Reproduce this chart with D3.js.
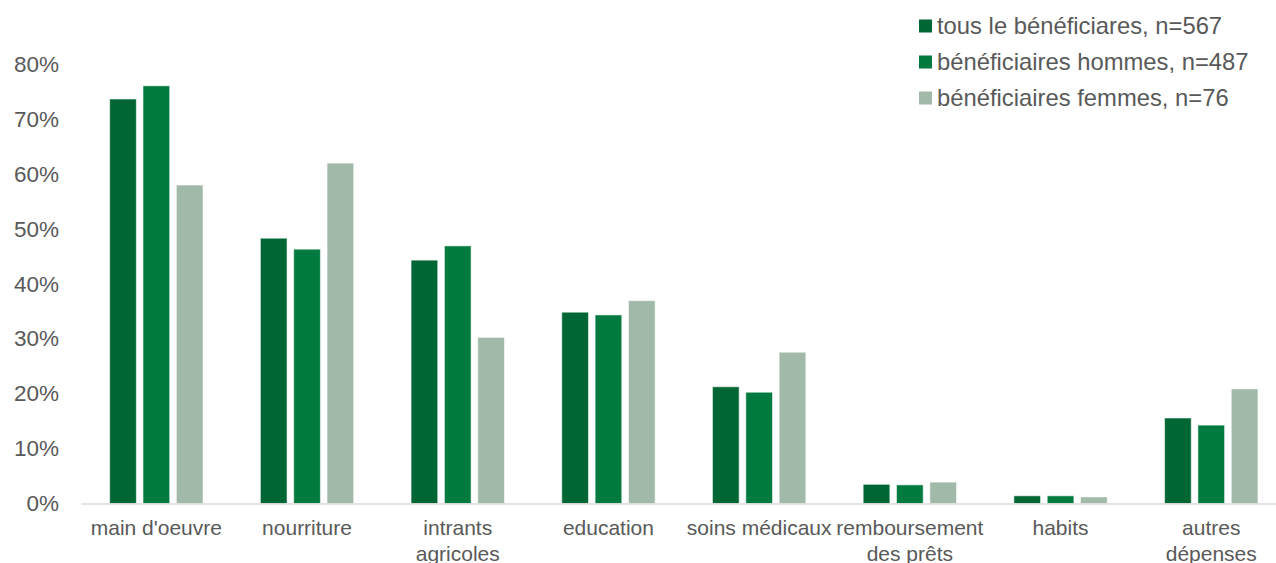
<!DOCTYPE html>
<html>
<head>
<meta charset="utf-8">
<script src="https://cdn.jsdelivr.net/npm/d3@7"></script>
<style>
  html, body { margin: 0; padding: 0; background: #fff; }
  svg { display: block; font-family: "Liberation Sans", Arial, sans-serif; }
</style>
</head>
<body>
<svg id="chart" width="1276" height="563"></svg>
<script>
// ---- data ----
const categories = [
  ["main d'oeuvre"],
  ["nourriture"],
  ["intrants", "agricoles"],
  ["education"],
  ["soins médicaux"],
  ["remboursement", "des prêts"],
  ["habits"],
  ["autres", "dépenses"]
];
const seriesNames = [
  "tous le bénéficiares, n=567",
  "bénéficiaires hommes, n=487",
  "bénéficiaires femmes, n=76"
];
const allValues   = [73.8, 48.4, 44.4, 34.9, 21.3, 3.5, 1.4, 15.6];
const menValues   = [76.2, 46.4, 47.0, 34.4, 20.3, 3.4, 1.4, 14.3];
const womenValues = [58.1, 62.1, 30.3, 37.0, 27.6, 3.9, 1.2, 20.9];
const yTicks = [0, 10, 20, 30, 40, 50, 60, 70, 80];
const colors = ["#006633", "#007A3E", "#A1B9A8"];

const seriesValues = [allValues, menValues, womenValues];

// ---- layout ----
const svg = d3.select("#chart");
const baseY = 503.5, topY = 65;
const x0 = d3.scaleBand().domain(d3.range(categories.length)).range([81, 1286.6]).paddingInner(0).paddingOuter(0);
const x1 = d3.scaleBand().domain(d3.range(3)).range([0, x0.bandwidth()]).paddingInner(0.2).paddingOuter(0.86);
const y = d3.scaleLinear().domain([0, 80]).range([baseY, topY]);

// y axis labels
const yAxis = d3.axisLeft(y).tickValues(yTicks).tickFormat(d => d + "%").tickSize(0).tickPadding(0);
const gy = svg.append("g").attr("transform", "translate(59,0)").call(yAxis);
gy.select(".domain").remove();
gy.selectAll("text").attr("fill", "#595959").style("font-size", "22.5px").style("font-family", "Liberation Sans, Arial, sans-serif").attr("dy", "0.3em");

// bars
const groups = svg.append("g").selectAll("g").data(categories).join("g")
  .attr("transform", (d, i) => `translate(${x0(i)},0)`);
groups.selectAll("rect").data((d, i) => seriesValues.map((s, k) => ({k, v: s[i]}))).join("rect")
  .attr("x", d => x1(d.k))
  .attr("width", x1.bandwidth())
  .attr("y", d => y(d.v))
  .attr("height", d => baseY - y(d.v))
  .attr("fill", d => colors[d.k])
  .attr("stroke", "#ffffff")
  .attr("stroke-opacity", 0.55)
  .attr("stroke-width", 1);

// baseline (x axis)
const xAxis = d3.axisBottom(x0).tickSize(0).tickFormat("");
const gx = svg.append("g").attr("transform", `translate(0,${baseY})`).call(xAxis);
gx.select(".domain").attr("stroke", "#D9D9D9").attr("stroke-width", 1.5);

// category labels
const lab = svg.append("g").selectAll("text").data(categories).join("text")
  .attr("text-anchor", "middle")
  .attr("fill", "#595959")
  .style("font-size", "21px")
  .attr("x", (d, i) => x0(i) + x0.bandwidth() / 2)
  .attr("y", 535);
lab.selectAll("tspan").data(d => d).join("tspan")
  .attr("x", function() { return d3.select(this.parentNode).attr("x"); })
  .attr("dy", (d, j) => j === 0 ? 0 : 26)
  .text(d => d);

// legend
const leg = svg.append("g").selectAll("g").data(seriesNames).join("g")
  .attr("transform", (d, i) => `translate(919,${26 + i * 36})`);
leg.append("rect").attr("x", 0).attr("y", -6.5).attr("width", 13).attr("height", 13)
  .attr("fill", (d, i) => colors[i]);
leg.append("text").attr("x", 18).attr("y", 0).attr("dy", "0.35em")
  .attr("fill", "#595959").style("font-size", "23.8px").text(d => d);
</script>
</body>
</html>
